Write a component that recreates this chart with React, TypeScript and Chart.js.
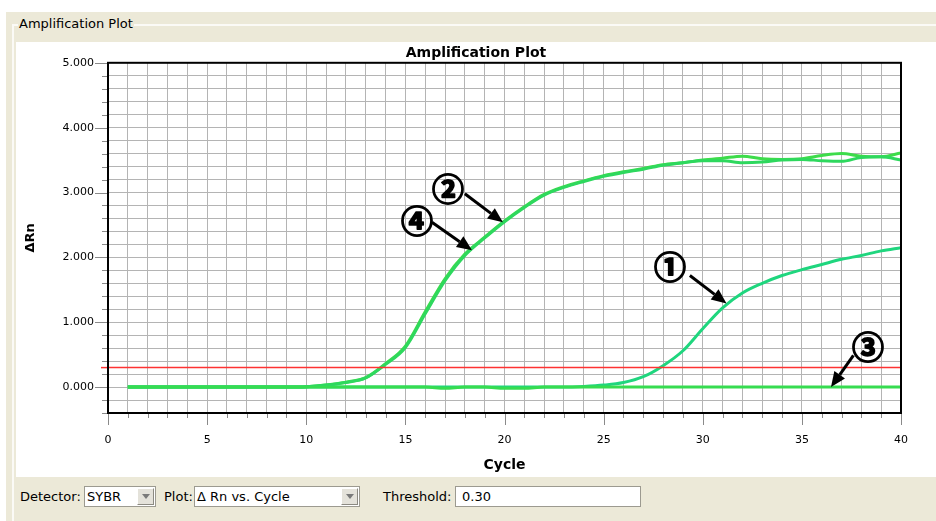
import { useEffect, useRef } from 'react';
import { Chart, registerables } from 'chart.js';

Chart.register(...registerables);

// ---- data ----
const cycles = [1, 2, 3, 4, 5, 6, 7, 8, 9, 10, 11, 12, 13, 14, 15, 16, 17, 18, 19, 20, 21, 22, 23, 24, 25, 26, 27, 28, 29, 30, 31, 32, 33, 34, 35, 36, 37, 38, 39, 40];
const sample1 = [0, 0, 0, 0, 0, 0, 0, 0, 0, 0, 0, 0, 0, 0, 0, 0, 0, 0, 0, 0, 0, 0, 0, 0.01, 0.03, 0.07, 0.16, 0.33, 0.56, 0.9, 1.22, 1.45, 1.6, 1.72, 1.81, 1.89, 1.97, 2.03, 2.1, 2.15];
const sample2 = [0, 0, 0, 0, 0, 0, 0, 0, 0, 0.005, 0.03, 0.075, 0.145, 0.36, 0.63, 1.16, 1.67, 2.05, 2.31, 2.56, 2.78, 2.97, 3.09, 3.18, 3.26, 3.32, 3.37, 3.43, 3.46, 3.5, 3.53, 3.56, 3.52, 3.51, 3.52, 3.57, 3.6, 3.56, 3.55, 3.61];
const sample3 = [0, 0, 0, 0, 0, 0, 0, 0, 0, 0, 0, 0, 0, 0, 0, 0, -0.02, 0, 0, -0.02, -0.02, 0, 0, 0, 0, 0, 0, 0, 0, 0, 0, 0, 0, 0, 0, 0, 0, 0, 0, 0];
const sample4 = [0, 0, 0, 0, 0, 0, 0, 0, 0, 0.005, 0.03, 0.07, 0.14, 0.35, 0.61, 1.13, 1.64, 2.03, 2.3, 2.55, 2.77, 2.96, 3.08, 3.17, 3.25, 3.31, 3.36, 3.42, 3.46, 3.49, 3.49, 3.46, 3.47, 3.5, 3.51, 3.49, 3.48, 3.54, 3.55, 3.5];
const threshold = 0.3;
const xRange = [0, 40];
const yRange = [-0.4, 5];
const xTickLabels = [0, 5, 10, 15, 20, 25, 30, 35, 40];
const yTickLabels = [0, 1, 2, 3, 4, 5];

// annotations (data coordinates)
const annoText = ['①', '②', '③', '④'];
const annoTextX = [28.35, 17.15, 38.34, 15.59];
const annoTextY = [1.85, 3.06, 0.62, 2.57];
const annoTailX = [29.35, 18.0, 37.6, 16.34];
const annoTailY = [1.72, 2.98, 0.49, 2.54];
const annoTipX = [31.2, 19.92, 36.47, 18.36];
const annoTipY = [1.29, 2.54, 0.0, 2.11];

const FONT = 'DejaVu Sans';

const pts = (ys: number[]) => ys.map((v, i) => ({ x: cycles[i], y: v }));

const decorPlugin = {
  id: 'decor',
  afterDatasetsDraw(chart: any) {
    const { ctx, scales } = chart;
    const x = scales.x;
    const y = scales.y;
    ctx.save();
    for (let i = 0; i < annoText.length; i++) {
      const tx = x.getPixelForValue(annoTailX[i]);
      const ty = y.getPixelForValue(annoTailY[i]);
      const hx = x.getPixelForValue(annoTipX[i]);
      const hy = y.getPixelForValue(annoTipY[i]);
      const ang = Math.atan2(hy - ty, hx - tx);
      const headLen = 15;
      const headW = 6.5;
      const bx = hx - Math.cos(ang) * headLen;
      const by = hy - Math.sin(ang) * headLen;
      ctx.strokeStyle = '#000';
      ctx.fillStyle = '#000';
      ctx.lineWidth = 3;
      ctx.lineCap = 'butt';
      ctx.beginPath();
      ctx.moveTo(tx, ty);
      ctx.lineTo(bx, by);
      ctx.stroke();
      ctx.beginPath();
      ctx.moveTo(hx, hy);
      ctx.lineTo(bx - Math.sin(ang) * headW, by + Math.cos(ang) * headW);
      ctx.lineTo(bx + Math.sin(ang) * headW, by - Math.cos(ang) * headW);
      ctx.closePath();
      ctx.fill();
      ctx.font = 'bold 32px "Noto Sans CJK JP"';
      ctx.textAlign = 'center';
      ctx.textBaseline = 'middle';
      ctx.lineWidth = 1.6;
      ctx.lineJoin = 'round';
      const lx = x.getPixelForValue(annoTextX[i]);
      const ly = y.getPixelForValue(annoTextY[i]);
      ctx.fillText(annoText[i], lx, ly);
      ctx.strokeText(annoText[i], lx, ly);
    }
    ctx.restore();
  },
  afterDraw(chart: any) {
    const { ctx, chartArea: a, scales } = chart;
    const x = scales.x;
    const y = scales.y;
    ctx.save();
    ctx.strokeStyle = '#8a8a8a';
    ctx.lineWidth = 1;
    ctx.beginPath();
    x.ticks.forEach((t: any) => {
      const px = Math.round(x.getPixelForValue(t.value)) + 0.5;
      const major = xTickLabels.some((v) => Math.abs(v - t.value) < 1e-6);
      ctx.moveTo(px, a.bottom);
      ctx.lineTo(px, a.bottom + (major ? 12 : 5));
    });
    y.ticks.forEach((t: any) => {
      const py = Math.round(y.getPixelForValue(t.value)) + 0.5;
      const major = yTickLabels.some((v) => Math.abs(v - t.value) < 1e-6);
      ctx.moveTo(a.left, py);
      ctx.lineTo(a.left - (major ? 13 : 6), py);
    });
    ctx.stroke();
    const ty = y.getPixelForValue(threshold);
    ctx.strokeStyle = '#ff3333';
    ctx.lineWidth = 1.5;
    ctx.beginPath();
    ctx.moveTo(a.left - 7, ty);
    ctx.lineTo(a.left, ty);
    ctx.stroke();
    ctx.strokeStyle = '#000';
    ctx.lineWidth = 2;
    ctx.strokeRect(a.left, a.top, a.right - a.left, a.bottom - a.top);
    ctx.restore();
  },
};

function AmpChart() {
  const ref = useRef<HTMLCanvasElement | null>(null);
  useEffect(() => {
    if (!ref.current) return;
    const curve = (data: number[], color: string) => ({
      data: pts(data),
      borderColor: color,
      borderWidth: 3,
      pointRadius: 0,
      cubicInterpolationMode: 'monotone',
    });
    const chart = new Chart(ref.current, {
      type: 'line',
      data: {
        datasets: [
          { label: 'threshold', data: [{ x: xRange[0], y: threshold }, { x: xRange[1], y: threshold }], borderColor: '#ff3333', borderWidth: 1.5, pointRadius: 0, tension: 0 },
          { label: '3', ...curve(sample3, '#36dc50') },
          { label: '1', ...curve(sample1, '#1fd67e') },
          { label: '4', ...curve(sample4, '#2ed85e') },
          { label: '2', ...curve(sample2, '#3ddc4a') },
        ],
      },
      options: {
        animation: false,
        responsive: false,
        devicePixelRatio: 1,
        layout: { padding: 0 },
        plugins: {
          legend: { display: false },
          tooltip: { enabled: false },
          title: {
            display: true,
            text: 'Amplification Plot',
            color: '#000',
            font: { family: FONT, size: 14, weight: 'bold' },
            padding: { top: 3, bottom: 1 },
          },
        },
        scales: {
          x: {
            type: 'linear',
            min: xRange[0],
            max: xRange[1],
            afterFit: (s: any) => { s.height = 64; },
            grid: { color: '#b4b4b4', lineWidth: 1, drawTicks: false },
            border: { display: false },
            ticks: {
              stepSize: 1,
              maxTicksLimit: 100,
              autoSkip: false,
              maxRotation: 0,
              padding: 21,
              color: '#000',
              font: { family: FONT, size: 11 },
              callback: (v: any) => (xTickLabels.some((t) => Math.abs(t - v) < 1e-6) ? String(Math.round(v)) : ''),
            },
            title: {
              display: true,
              text: 'Cycle',
              color: '#000',
              font: { family: FONT, size: 14, weight: 'bold' },
              padding: { top: 0, bottom: 3 },
            },
          },
          y: {
            type: 'linear',
            min: yRange[0],
            max: yRange[1],
            afterFit: (s: any) => { s.width = 92; },
            grid: { color: '#b4b4b4', lineWidth: 1, drawTicks: false },
            border: { display: false },
            ticks: {
              stepSize: 0.2,
              maxTicksLimit: 100,
              autoSkip: false,
              padding: 14,
              color: '#000',
              font: { family: FONT, size: 11 },
              callback: (v: any) => {
                const m = yTickLabels.find((t) => Math.abs(t - v) < 1e-6);
                return m === undefined ? '' : m.toFixed(3);
              },
            },
            title: {
              display: true,
              text: 'ΔRn',
              color: '#000',
              font: { family: FONT, size: 13, weight: 'bold' },
              padding: { top: 7, bottom: 0 },
            },
          },
          yR: {
            type: 'linear',
            position: 'right',
            display: true,
            afterFit: (s: any) => { s.width = 35; },
            grid: { display: false, drawTicks: false },
            border: { display: false },
            ticks: { display: false },
          },
        },
      },
      plugins: [decorPlugin],
    } as any);
    return () => chart.destroy();
  }, []);
  return <canvas ref={ref} width={920} height={435} style={{ display: 'block', width: 920, height: 435 }} />;
}

const beige = '#ece9d8';

function Combo({ left, width, text }: { left: number; width: number; text: string }) {
  return (
    <div style={{ position: 'absolute', left, top: 486, width, height: 21, boxSizing: 'border-box', background: '#fff', border: '1px solid #9c9a90' }}>
      <div style={{ position: 'absolute', left: 2, top: 0, lineHeight: '19px', fontSize: 13 }}>{text}</div>
      <div style={{ position: 'absolute', right: 1, top: 1, width: 17, height: 17, boxSizing: 'border-box', background: '#e4e2da', border: '1px solid', borderColor: '#fff #8c8a82 #8c8a82 #fff' }}>
        <div style={{ position: 'absolute', left: 4, top: 5, width: 0, height: 0, borderLeft: '4px solid transparent', borderRight: '4px solid transparent', borderTop: '5px solid #7a7a7a' }} />
      </div>
    </div>
  );
}

export default function App() {
  return (
    <div style={{ position: 'absolute', left: 0, top: 0, width: 936, height: 521, background: '#fff', overflow: 'hidden', fontFamily: FONT, color: '#000' }}>
      <div style={{ position: 'absolute', left: 6, top: 12, right: 0, bottom: 0, background: beige }} />
      <div style={{ position: 'absolute', left: 12, top: 24, width: 2, bottom: 0, background: '#fbfaf6' }} />
      <div style={{ position: 'absolute', left: 12, top: 24, right: 0, height: 2, background: '#fbfaf6' }} />
      <div style={{ position: 'absolute', left: 18, top: 16, height: 16, lineHeight: '16px', padding: '0 1px', background: beige, fontSize: 13 }}>Amplification Plot</div>
      <div style={{ position: 'absolute', left: 16, top: 42, width: 920, height: 435, background: '#fff' }}>
        <AmpChart />
      </div>
      <div style={{ position: 'absolute', left: 20, top: 487, lineHeight: '19px', fontSize: 13 }}>Detector:</div>
      <Combo left={84} width={72} text="SYBR" />
      <div style={{ position: 'absolute', left: 164, top: 487, lineHeight: '19px', fontSize: 13 }}>Plot:</div>
      <Combo left={194} width={166} text="Δ Rn vs. Cycle" />
      <div style={{ position: 'absolute', left: 383, top: 487, lineHeight: '19px', fontSize: 13 }}>Threshold:</div>
      <div style={{ position: 'absolute', left: 455, top: 486, width: 186, height: 21, boxSizing: 'border-box', background: '#fff', border: '1px solid #9c9a90' }}>
        <div style={{ position: 'absolute', left: 6, top: 0, lineHeight: '19px', fontSize: 13 }}>0.30</div>
      </div>
    </div>
  );
}
